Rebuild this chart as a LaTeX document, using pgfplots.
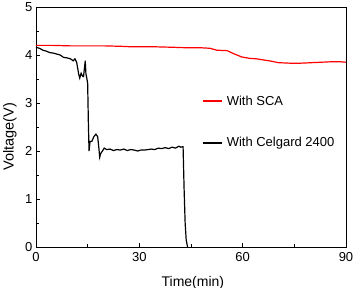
\documentclass[border=0pt]{standalone}
\usepackage{pgfplots}
\pgfplotsset{compat=1.18}
\usepackage{fontspec}
\setmainfont{Liberation Sans}
\begin{document}
\begin{tikzpicture}
\begin{axis}[
  scale only axis, width=310pt, height=240pt,
  at={(0,0)}, anchor=south west,
  xmin=0, xmax=90, ymin=0, ymax=5,
  xtick={0,30,60,90}, ytick={0,1,2,3,4,5},
  minor x tick num=1, minor y tick num=1,
  tick pos=left, tick align=inside,
  major tick length=3.5pt, minor tick length=2.5pt,
  axis line style={line width=0.9pt}, every tick/.style={line width=0.8pt, black},
  /pgf/number format/assume math mode=true,
  ticklabel style={font=\fontsize{13}{15}\selectfont},
  xticklabel style={yshift=-1.5pt},
  xlabel={Time(min)}, ylabel={Voltage(V)},
  xlabel style={font=\fontsize{14}{16}\selectfont, at={(axis description cs:0.506,-0.1475)}, anchor=center},
  ylabel style={font=\fontsize{14.5}{16}\selectfont, at={(axis description cs:-0.0839,0.46)}, anchor=center},
  legend style={at={(axis description cs:0.535,0.64)}, anchor=north west, draw=none, fill=none,
    font=\fontsize{13}{15}\selectfont, row sep=27pt, inner sep=0pt,
    nodes={inner xsep=4.5pt}},
  legend cell align=left,
  legend image code/.code={\draw[#1, line width=1.2pt] (0pt,0pt) -- (19pt,0pt);},
]
\addplot[red, line width=1.2pt] coordinates {
(0,4.2) (5,4.2) (10,4.19) (15,4.19) (20,4.19) (25,4.18) (28,4.17) (30,4.17) (35,4.17)
(40,4.16) (44,4.15) (48,4.15) (50.5,4.14) (52.5,4.1) (55.5,4.09) (57.3,4.03) (59.7,3.96)
(62,3.93) (64,3.92) (68,3.875) (70.4,3.84) (73.6,3.83) (77,3.83) (80,3.84) (86,3.86) (88,3.86) (90,3.85)
};
\addlegendentry{With SCA}
\addplot[black, line width=1.2pt] coordinates {
(0,4.16) (1,4.14) (2,4.1) (3,4.08) (4,4.05) (5,4.04) (6,4.02) (7,4.0) (8,3.95) (9,3.94)
(10,3.92) (10.8,3.88) (11.3,3.92) (11.8,3.85) (12.4,3.6) (12.7,3.52) (13.1,3.62) (13.5,3.56)
(13.8,3.55) (14.1,3.75) (14.3,3.88) (14.5,3.6) (14.8,3.5) (15.0,3.4) (15.2,2.6) (15.4,2.0)
(15.7,2.2) (16.2,2.2) (16.8,2.3) (17.4,2.35) (17.9,2.3) (18.2,2.1) (18.5,1.87) (18.8,1.95)
(19.3,2.0) (19.8,2.06) (20.5,2.03) (21.5,2.04) (22.5,2.01) (23.5,2.03) (24.5,2.02) (25.5,2.04)
(26.5,2.01) (27.5,2.03) (28.5,2.02) (29.5,2.0) (30.5,2.02) (31.5,2.02) (32.5,2.03) (33.5,2.04)
(34.5,2.03) (35.5,2.06) (36.5,2.05) (37.5,2.07) (38.5,2.05) (39.5,2.08) (40.5,2.06) (41.5,2.1)
(42.0,2.08) (42.7,2.09) (43.0,1.2) (43.3,0.5) (43.6,0.15) (44.0,0.0)
};
\addlegendentry{With Celgard 2400}
\end{axis}
\pgfresetboundingbox
\path (-36pt,-41pt) rectangle (319pt,247pt);
\end{tikzpicture}
\end{document}
